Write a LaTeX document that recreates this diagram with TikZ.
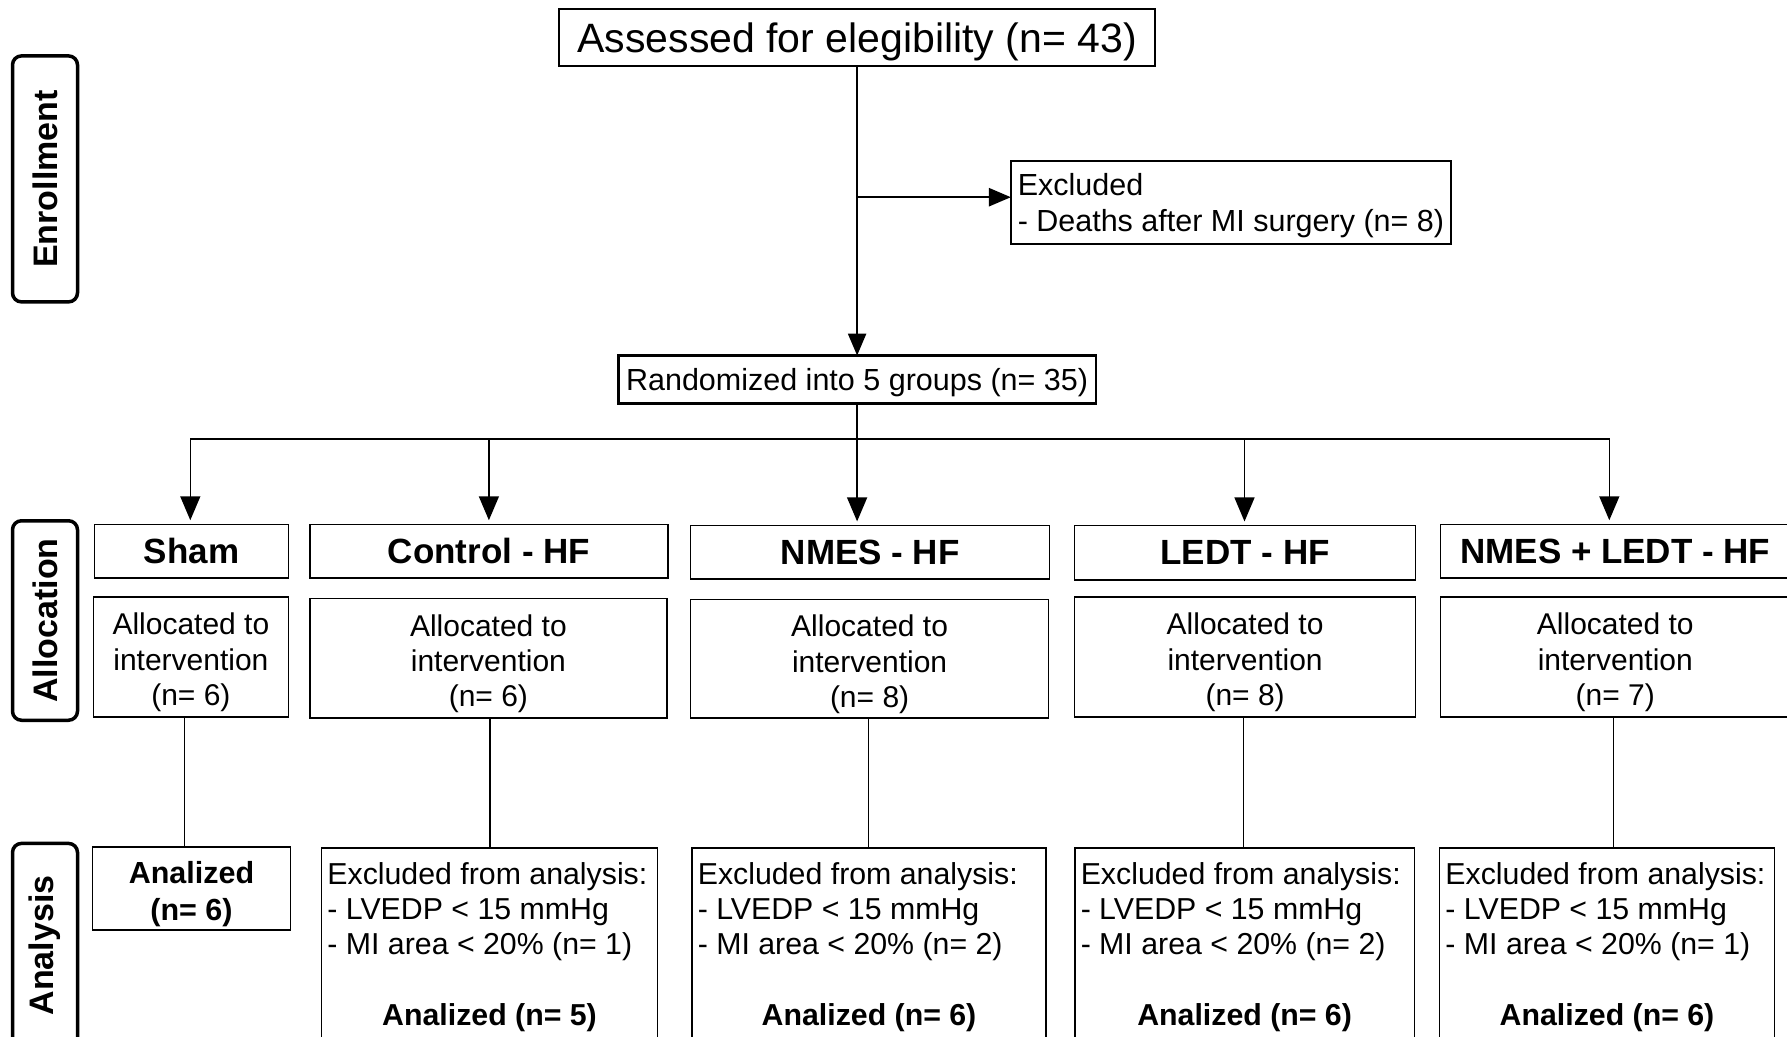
\documentclass[tikz,border=0pt]{standalone}
\usepackage{fontspec}
\setmainfont{Liberation Sans}
\usetikzlibrary{arrows.meta}
\tikzset{tiptri/.tip={Triangle[length=24pt,width=20pt]}, tipmain/.tip={Triangle[length=22pt,width=18pt]}}
\begin{document}
\begin{tikzpicture}[x=1pt,y=-1pt,
  every node/.style={inner sep=0pt, outer sep=0pt},
  bigbox/.style={draw, line width=2.5pt, align=left, text depth=0pt, font=\fontsize{30.5}{36.5}\selectfont},
  headbox/.style={draw, line width=1.5pt, font=\fontsize{35}{40}\selectfont\bfseries},
  allocbox/.style={draw, line width=1.5pt, align=center, text height=97.3pt, text depth=0pt, font=\fontsize{30}{35.4}\selectfont},
  anbox/.style={draw, line width=1.5pt, align=left, text depth=0pt, minimum height=192pt, font=\fontsize{30.3}{35.4}\selectfont},
  sidebox/.style={draw, line width=3.5pt, rounded corners=9pt, rotate=90, minimum height=65pt, font=\fontsize{34}{40}\selectfont\bfseries},
  mainarrow/.style={line width=2.5pt, -{tipmain}},
  thinline/.style={line width=1.2pt}
]
\useasboundingbox (0,0) rectangle (1787,1036);
\clip (0,0) rectangle (1787,1036);
\fill[white] (0,0) rectangle (1787,1036);

% side labels
\node[sidebox, minimum width=246pt] (enr) at (45,178.9) {Enrollment};
\node[sidebox, minimum width=199.5pt] (alo) at (45,620.5) {Allocation};
\node[sidebox, minimum width=204pt] (ana) at (45,945.4) {Analysis};

% enrollment
\node[bigbox, font=\fontsize{41}{46}\selectfont, minimum width=596pt, minimum height=57pt] (assess) at (857.1,37.6) {Assessed for elegibility (n= 43)};
\node[bigbox, minimum width=440pt, minimum height=83pt] (excl) at (1230.9,202.3) {Excluded\\- Deaths after MI surgery (n= 8)};
\node[bigbox, minimum width=477.5pt, minimum height=47.9pt] (rand) at (857.1,379.5) {Randomized into 5 groups (n= 35)};

\coordinate (bx) at (857.1,197.2);
\draw[mainarrow] (assess.south) -- (assess.south |- rand.north);
\draw[mainarrow] (bx) -- (bx -| excl.west);

% group headers
\node[headbox, minimum width=193.7pt, minimum height=53.5pt] (h1) at (191.5,551) {Sham};
\node[headbox, minimum width=358pt, minimum height=53.5pt] (h2) at (489,551) {Control - HF};
\node[headbox, minimum width=359pt, minimum height=53.6pt] (h3) at (870.2,552.2) {NMES - HF};
\node[headbox, minimum width=340.8pt, minimum height=54.7pt] (h4) at (1245.1,552.8) {LEDT - HF};
\node[headbox, minimum width=349.4pt, minimum height=53.5pt] (h5) at (1615.3,551) {NMES + LEDT - HF};

% allocated boxes
\node[allocbox, minimum width=194.8pt, minimum height=119.7pt] (a1) at (190.9,657) {Allocated to\\intervention\\(n= 6)};
\node[allocbox, minimum width=356.7pt, minimum height=119.7pt] (a2) at (488.4,658.2) {Allocated to\\intervention\\(n= 6)};
\node[allocbox, minimum width=357.8pt, minimum height=118.5pt] (a3) at (869.6,658.8) {Allocated to\\intervention\\(n= 8)};
\node[allocbox, minimum width=340.8pt, minimum height=119.7pt] (a4) at (1245.1,657) {Allocated to\\intervention\\(n= 8)};
\node[allocbox, minimum width=349.4pt, minimum height=119.7pt] (a5) at (1615.3,657) {Allocated to\\intervention\\(n= 7)};

% analysis boxes
\node[allocbox, font=\fontsize{30.5}{36.4}\selectfont\bfseries, text height=63.2pt, minimum width=198.3pt, minimum height=83.2pt] (s1) at (191.5,888.4) {Analized\\(n= 6)};
\node[anbox, minimum width=336.2pt] (s2) at (489.5,944) {Excluded from analysis:\\- LVEDP < 15 mmHg\\- MI area < 20\% (n= 1)\\\mbox{}\\\makebox[324.2pt]{\bfseries Analized (n= 5)}};
\node[anbox, minimum width=354.4pt] (s3) at (869,944) {Excluded from analysis:\\- LVEDP < 15 mmHg\\- MI area < 20\% (n= 2)\\\mbox{}\\\makebox[342.4pt]{\bfseries Analized (n= 6)}};
\node[anbox, minimum width=339.7pt] (s4) at (1244.6,944) {Excluded from analysis:\\- LVEDP < 15 mmHg\\- MI area < 20\% (n= 2)\\\mbox{}\\\makebox[327.7pt]{\bfseries Analized (n= 6)}};
\node[anbox, minimum width=335.1pt] (s5) at (1607,944) {Excluded from analysis:\\- LVEDP < 15 mmHg\\- MI area < 20\% (n= 1)\\\mbox{}\\\makebox[323.1pt]{\bfseries Analized (n= 6)}};

% randomization tree
\coordinate (hl) at (190.3,438.8);
\coordinate (hr) at (1609.3,438.8);
\coordinate (t2) at (488.9,438.8);
\coordinate (t4) at (1244.5,438.8);
\draw[line width=1.5pt] (rand.south) -- (rand.south |- hl);
\draw[line width=1.5pt, {tiptri}-{tiptri}, shorten <=4pt, shorten >=4pt] (hl |- h1.north) -- (hl) -- (hr) -- (hr |- h5.north);
\draw[line width=1.5pt, -{tiptri}, shorten >=4pt] (t2) -- (t2 |- h2.north);
\draw[line width=1.5pt, -{tiptri}, shorten >=4pt] (rand.south |- hl) -- (rand.south |- h3.north);
\draw[line width=1.5pt, -{tiptri}, shorten >=4pt] (t4) -- (t4 |- h4.north);

% allocation to analysis
\coordinate (v1) at (184.6,0);
\coordinate (v2) at (490,0);
\coordinate (v3) at (868.5,0);
\coordinate (v4) at (1243.4,0);
\coordinate (v5) at (1613.8,0);
\draw[thinline] (a1.south -| v1) -- (s1.north -| v1);
\draw[thinline] (a2.south -| v2) -- (s2.north -| v2);
\draw[thinline] (a3.south -| v3) -- (s3.north -| v3);
\draw[thinline] (a4.south -| v4) -- (s4.north -| v4);
\draw[thinline] (a5.south -| v5) -- (s5.north -| v5);
\end{tikzpicture}
\end{document}
